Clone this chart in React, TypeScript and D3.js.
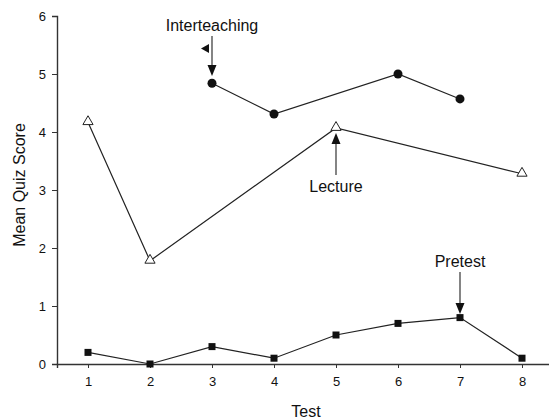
import React, { useEffect, useRef } from "react";
import * as d3 from "d3";

// Tests on the x axis
const tests = [1, 2, 3, 4, 5, 6, 7, 8];
const yTicks = [0, 1, 2, 3, 4, 5, 6];

// Series values
const interteachingTests = [3, 4, 6, 7];
const interteachingScores = [4.84, 4.31, 5.0, 4.57];

const lectureTests = [1, 2, 5, 8];
const lectureScores = [4.17, 1.78, 4.07, 3.28];

const pretestTests = [1, 2, 3, 4, 5, 6, 7, 8];
const pretestScores = [0.2, 0.0, 0.3, 0.1, 0.5, 0.7, 0.8, 0.1];

interface Pt {
  x: number;
  y: number;
}

const zip = (xs: number[], ys: number[]): Pt[] => xs.map((x, i) => ({ x, y: ys[i] }));

export default function App() {
  const svgRef = useRef<SVGSVGElement>(null);
  const width = 549;
  const height = 420;

  useEffect(() => {
    if (!svgRef.current) return;
    const svg = d3.select(svgRef.current);
    svg.selectAll("*").remove();

    const x = d3.scaleLinear().domain([0.5, 8.5]).range([57, 553]);
    const y = d3.scaleLinear().domain([0, 6]).range([364, 16]);
    const font = "Liberation Sans, Arial, sans-serif";

    const line = d3
      .line<Pt>()
      .x((d) => x(d.x))
      .y((d) => y(d.y));

    // Axes
    const yAxis = svg
      .append("g")
      .attr("transform", `translate(${x(0.5)},0)`)
      .call(d3.axisLeft(y).tickValues(yTicks).tickSize(5).tickPadding(6).tickFormat(d3.format("d")));
    const xAxis = svg
      .append("g")
      .attr("transform", `translate(0,${y(0)})`)
      .call(d3.axisBottom(x).tickValues(tests).tickSize(4).tickPadding(9).tickFormat(d3.format("d")));
    [yAxis, xAxis].forEach((a) => {
      a.select(".domain").attr("stroke", "#333").attr("stroke-width", 1.4);
      a.selectAll(".tick line").attr("stroke", "#333");
      a.selectAll("text").attr("font-family", font).attr("font-size", 13).attr("fill", "#111");
    });

    svg
      .append("text")
      .attr("x", 306)
      .attr("y", 417)
      .attr("text-anchor", "middle")
      .attr("font-family", font)
      .attr("font-size", 16)
      .attr("fill", "#111")
      .text("Test");

    svg
      .append("text")
      .attr("transform", `translate(25,185) rotate(-90)`)
      .attr("text-anchor", "middle")
      .attr("font-family", font)
      .attr("font-size", 16)
      .attr("fill", "#111")
      .text("Mean Quiz Score");

    const inter = zip(interteachingTests, interteachingScores);
    const lect = zip(lectureTests, lectureScores);
    const pre = zip(pretestTests, pretestScores);

    [inter, lect, pre].forEach((data) => {
      svg
        .append("path")
        .datum(data)
        .attr("fill", "none")
        .attr("stroke", "#222")
        .attr("stroke-width", 1.2)
        .attr("d", line);
    });

    // Markers
    svg
      .selectAll(".circ")
      .data(inter)
      .enter()
      .append("circle")
      .attr("cx", (d) => x(d.x))
      .attr("cy", (d) => y(d.y))
      .attr("r", 4.5)
      .attr("fill", "#111");

    const tri = d3.symbol().type(d3.symbolTriangle).size(45);
    svg
      .selectAll(".tri")
      .data(lect)
      .enter()
      .append("path")
      .attr("transform", (d) => `translate(${x(d.x)},${y(d.y) - 0.5})`)
      .attr("d", tri)
      .attr("fill", "white")
      .attr("stroke", "#222")
      .attr("stroke-width", 1);

    svg
      .selectAll(".sq")
      .data(pre)
      .enter()
      .append("rect")
      .attr("x", (d) => x(d.x) - 3.5)
      .attr("y", (d) => y(d.y) - 3.5)
      .attr("width", 7)
      .attr("height", 7)
      .attr("fill", "#111");

    // Annotations with arrows
    const arrow = (px: number, fromY: number, tipY: number) => {
      const dir = tipY > fromY ? 1 : -1;
      const headLen = 11;
      svg
        .append("line")
        .attr("x1", px)
        .attr("x2", px)
        .attr("y1", fromY)
        .attr("y2", tipY - dir * headLen)
        .attr("stroke", "#333")
        .attr("stroke-width", 1.2);
      svg
        .append("path")
        .attr(
          "d",
          `M${px - 4.5},${tipY - dir * headLen}L${px + 4.5},${tipY - dir * headLen}L${px},${tipY}Z`
        )
        .attr("fill", "#111");
    };

    const label = (px: number, py: number, t: string) =>
      svg
        .append("text")
        .attr("x", px)
        .attr("y", py)
        .attr("text-anchor", "middle")
        .attr("font-family", font)
        .attr("font-size", 16)
        .attr("fill", "#111")
        .text(t);

    label(x(3), 31, "Interteaching");
    arrow(x(3), 36, 76);
    // small left-pointing triangle next to the arrow
    svg
      .append("path")
      .attr("d", `M${x(3) - 3},${44}L${x(3) - 3},${53}L${x(3) - 11},${48.5}Z`)
      .attr("fill", "#111");

    label(x(5), 192, "Lecture");
    arrow(x(5), 175, 133);

    label(x(7), 267, "Pretest");
    arrow(x(7), 272, 314);
  }, []);

  return (
    <svg
      ref={svgRef}
      width={width}
      height={height}
      style={{ position: "absolute", left: 0, top: 0, background: "white" }}
    />
  );
}
